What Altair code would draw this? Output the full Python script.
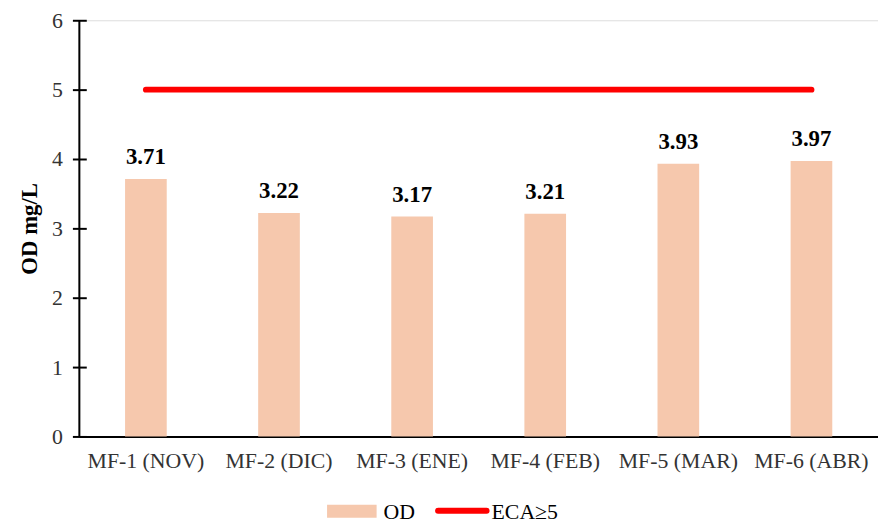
import altair as alt
import pandas as pd

categories = ["MF-1 (NOV)", "MF-2 (DIC)", "MF-3 (ENE)", "MF-4 (FEB)", "MF-5 (MAR)", "MF-6 (ABR)"]
od_values = [3.71, 3.22, 3.17, 3.21, 3.93, 3.97]
eca_limit = [5, 5, 5, 5, 5, 5]
legend_labels = ["OD", "ECA\u22655"]

FONT = "Liberation Serif"
BAR = "#F6C8AD"
RED = "#FF0000"
W, H = 806, 420

df = pd.DataFrame({"cat": categories, "od": od_values})
df_eca = pd.DataFrame({"cat": categories, "eca": eca_limit})

x_enc = alt.X(
    "cat:N", sort=categories, title=None,
    scale=alt.Scale(paddingInner=0.687, paddingOuter=0.3435),
    axis=alt.Axis(labelAngle=0, labelFont=FONT, labelFontSize=22, labelColor="#333333",
                  labelPadding=14, ticks=False, domainColor="black", domainWidth=2,
                  grid=False),
)
y_scale = alt.Scale(domain=[0, 6], nice=False)

bars = alt.Chart(df).mark_bar(color=BAR).encode(
    x=x_enc,
    y=alt.Y("od:Q", scale=y_scale, title="OD mg/L",
            axis=alt.Axis(values=[0, 1, 2, 3, 4, 5, 6], format="d", grid=False, domain=False,
                          offset=-7, tickSize=14, tickWidth=2, tickColor="black",
                          labelFont=FONT, labelFontSize=22, labelColor="#333333", labelPadding=10,
                          titleFont=FONT, titleFontSize=23, titleFontWeight="bold", titleColor="black",
                          titleAngle=270, titleBaseline="middle", titleAlign="center",
                          titleX=-57, titleY=H / 2)),
)

labels = alt.Chart(df).mark_text(font=FONT, fontSize=23, fontWeight="bold", color="black",
                                 baseline="alphabetic", dy=-15).encode(
    x=alt.X("cat:N", sort=categories),
    y=alt.Y("od:Q", scale=y_scale),
    text=alt.Text("od:Q", format=".2f"),
)

line = alt.Chart(df_eca).mark_line(color=RED, strokeWidth=6, strokeCap="round").encode(
    x=alt.X("cat:N", sort=categories),
    y=alt.Y("eca:Q", scale=y_scale),
)

yaxis_line = alt.Chart(alt.Data(values=[{"a": 1}])).mark_rule(color="black", strokeWidth=2).encode(
    x=alt.value(0), y=alt.value(0), y2=alt.value(H)
)

leg_df = pd.DataFrame({"label": legend_labels})
leg_rect = alt.Chart(leg_df).transform_filter(alt.datum.label == legend_labels[0]).mark_rect(color=BAR).encode(
    x=alt.value(250), x2=alt.value(300), y=alt.value(489), y2=alt.value(502)
)
leg_line = alt.Chart(leg_df).transform_filter(alt.datum.label == legend_labels[1]).mark_rule(
    color=RED, strokeWidth=6, strokeCap="round").encode(
    x=alt.value(362), x2=alt.value(411), y=alt.value(495)
)
leg_text1 = alt.Chart(leg_df).transform_filter(alt.datum.label == legend_labels[0]).mark_text(
    font=FONT, fontSize=22, color="black", align="left", baseline="alphabetic").encode(
    x=alt.value(307), y=alt.value(503), text="label:N"
)
leg_text2 = alt.Chart(leg_df).transform_filter(alt.datum.label == legend_labels[1]).mark_text(
    font=FONT, fontSize=22, color="black", align="left", baseline="alphabetic").encode(
    x=alt.value(416), y=alt.value(503), text="label:N"
)

chart = alt.layer(bars, labels, line, yaxis_line, leg_rect, leg_line, leg_text1, leg_text2).properties(
    width=W, height=H,
    autosize=alt.AutoSizeParams(type="none"),
    padding={"left": 72, "top": 10, "right": 0, "bottom": 89},
).configure_view(stroke=None).configure(background="white")

chart.save("out.html", embed_options={"renderer": "svg", "actions": False})
